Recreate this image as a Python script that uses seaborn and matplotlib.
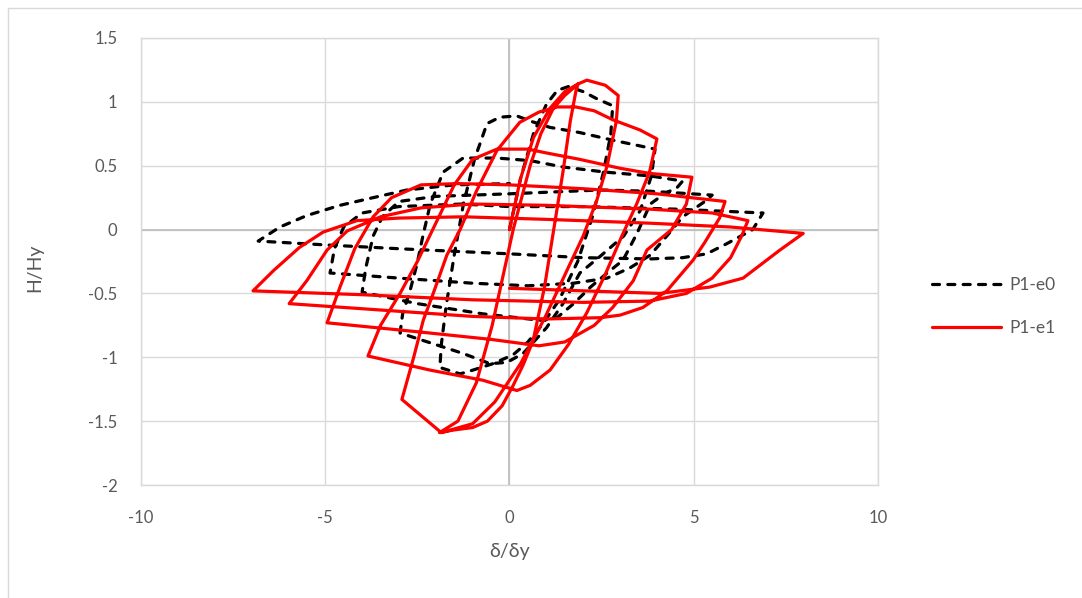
import matplotlib
matplotlib.use("Agg")
import matplotlib.pyplot as plt
import pandas as pd
import seaborn as sns
from matplotlib.lines import Line2D

# ---- data: normalised lateral load H/Hy vs normalised drift δ/δy ----
series_names = ["P1-e0", "P1-e1"]

e0_x = [0, 0.3, 0.65, 1.0, 1.3, 1.6, 2.0, 2.4, 2.8,
        2.75, 2.55, 2.25, 1.85, 1.35, 0.9, 0.5, 0.1, -0.45, -0.99, -1.34, -1.89,
        -1.85, -1.72, -1.5, -1.25, -0.95, -0.61, -0.26, 0.2, 0.56, 1.1, 1.9, 2.8, 3.95,
        3.85, 3.55, 3.1, 2.5, 1.91, 1.45, 1.0, 0.37, -0.07, -0.53, -1.26, -2.97,
        -2.9, -2.7, -2.51, -2.35, -2.15, -1.8, -1.26, -0.34, 0.56, 1.45, 2.6, 3.82, 4.7,
        4.55, 4.2, 3.82, 3.46, 3.08, 2.65, 2.2, 1.74, 1.29, 0.83, -0.72, -2.5, -4.0,
        -3.9, -3.7, -3.45, -3.0, -2.0, 0.0, 2.46, 3.82, 5.5,
        5.3, 4.7, 4.27, 3.82, 3.27, 2.65, 1.74, 0.5, -1.0, -3.0, -4.87,
        -4.75, -4.5, -4.0, -3.0, -1.3, 0.0, 2.0, 4.5, 6.88,
        6.6, 5.9, 5.35, 4.7, 3.8, 2.0, 0.0, -3.0, -5.0, -6.82,
        -6.23, -5.5, -4.6, -3.7, -2.78, -1.5, 0.0]
e0_y = [0, 0.4, 0.75, 0.98, 1.09, 1.12, 1.08, 1.02, 0.97,
        0.75, 0.45, 0.1, -0.25, -0.55, -0.74, -0.88, -0.98, -1.05, -1.1, -1.13, -1.08,
        -0.9, -0.6, -0.2, 0.2, 0.55, 0.83, 0.88, 0.89, 0.85, 0.8, 0.76, 0.7, 0.63,
        0.42, 0.15, -0.05, -0.2, -0.34, -0.58, -0.77, -0.97, -1.04, -1.05, -0.97, -0.81,
        -0.66, -0.48, -0.27, -0.05, 0.2, 0.45, 0.56, 0.56, 0.54, 0.49, 0.45, 0.42, 0.38,
        0.33, 0.28, 0.2, -0.03, -0.24, -0.34, -0.45, -0.58, -0.69, -0.71, -0.66, -0.58, -0.49,
        -0.3, -0.05, 0.1, 0.22, 0.26, 0.28, 0.31, 0.3, 0.27,
        0.22, 0.1, -0.05, -0.2, -0.3, -0.38, -0.42, -0.44, -0.42, -0.38, -0.34,
        -0.15, 0.02, 0.13, 0.18, 0.2, 0.18, 0.18, 0.16, 0.13,
        0.0, -0.11, -0.19, -0.22, -0.23, -0.22, -0.19, -0.15, -0.12, -0.09,
        0.02, 0.11, 0.19, 0.25, 0.31, 0.35, 0.36]

e1_x = [0, 0.3, 0.65, 1.1, 1.5, 1.86,
        1.5, 1.19, 0.85, 0.56, 0.1, -0.47, -0.9, -1.4, -1.9,
        -1.53, -1.0, -0.6, -0.2, 0.1, 0.37, 0.64, 0.95, 1.2, 1.45, 1.65, 1.8, 1.86, 2.1, 2.6, 2.95,
        2.9, 2.65, 2.37, 2.0, 1.64, 0.96, 0.3, -0.4, -1.0, -1.85, -2.92,
        -2.6, -2.34, -2.07, -1.7, -1.34, -0.9, -0.34, 0.28, 0.8, 1.3, 1.8, 2.3, 2.8, 3.54, 4.0,
        3.8, 3.45, 3.05, 2.6, 2.1, 1.6, 1.1, 0.56, 0.2, -0.72, -2.16, -3.84,
        -3.5, -2.97, -2.5, -2.0, -1.5, -1.0, -0.34, 0.5, 1.0, 1.9, 3.0, 3.8, 4.95,
        4.8, 4.4, 3.73, 3.36, 2.8, 2.3, 1.5, 0.8, -0.5, -2.5, -4.95,
        -4.6, -4.2, -3.7, -3.2, -2.4, -1.4, 0.0, 2.0, 4.0, 5.85,
        5.7, 5.3, 4.98, 4.27, 3.62, 3.0, 2.46, 1.0, -1.0, -3.0, -5.98,
        -5.5, -4.95, -4.4, -3.5, -2.4, -1.0, 1.0, 3.8, 5.5, 6.47,
        6.3, 6.0, 5.5, 4.8, 3.8, 2.0, -1.0, -4.0, -6.96,
        -6.4, -5.7, -5.06, -4.14, -3.0, -1.25, 1.0, 3.8, 6.0, 7.97,
        7.34, 6.34, 5.44, 4.08, 2.0, 0.0]
e1_y = [0, 0.4, 0.72, 0.95, 1.08, 1.14,
        1.05, 0.95, 0.75, 0.5, 0.0, -0.75, -1.2, -1.5, -1.59,
        -1.57, -1.55, -1.5, -1.38, -1.22, -1.06, -0.87, -0.45, 0.0, 0.45, 0.85, 1.08, 1.14, 1.17, 1.13, 1.05,
        0.85, 0.5, 0.23, -0.05, -0.27, -0.69, -1.05, -1.35, -1.52, -1.59, -1.33,
        -1.0, -0.71, -0.5, -0.2, 0.0, 0.3, 0.62, 0.84, 0.92, 0.96, 0.96, 0.93, 0.86, 0.78, 0.71,
        0.45, 0.2, -0.05, -0.35, -0.65, -0.9, -1.1, -1.22, -1.26, -1.18, -1.1, -0.99,
        -0.75, -0.5, -0.25, 0.05, 0.35, 0.55, 0.63, 0.63, 0.6, 0.55, 0.48, 0.44, 0.41,
        0.2, 0.0, -0.16, -0.4, -0.61, -0.75, -0.88, -0.91, -0.86, -0.8, -0.73,
        -0.45, -0.15, 0.1, 0.25, 0.35, 0.36, 0.35, 0.32, 0.28, 0.22,
        0.09, -0.1, -0.24, -0.48, -0.61, -0.67, -0.69, -0.7, -0.68, -0.64, -0.58,
        -0.4, -0.16, -0.01, 0.1, 0.17, 0.2, 0.19, 0.16, 0.13, 0.07,
        -0.05, -0.22, -0.38, -0.5, -0.56, -0.57, -0.55, -0.51, -0.48,
        -0.32, -0.14, -0.02, 0.07, 0.09, 0.1, 0.08, 0.05, 0.02, -0.03,
        -0.16, -0.38, -0.45, -0.5, -0.48, -0.46]

x_ticks = [-10, -5, 0, 5, 10]
y_ticks = [-2, -1.5, -1, -0.5, 0, 0.5, 1, 1.5]
x_label = "δ/δy"
y_label = "H/Hy"

# ---- styling ----
sns.set_theme(style="white")
plt.rcParams["font.family"] = ["Lato", "DejaVu Sans"]
plt.rcParams["axes.unicode_minus"] = False

text_grey = "#595959"
grid_grey = "#d9d9d9"

W, H = 1082, 598
fig = plt.figure(figsize=(W / 100, H / 100), dpi=100)
ax = fig.add_axes([141 / W, 1 - 485 / H, 737 / W, 447 / H])

df0 = pd.DataFrame({"x": e0_x, "y": e0_y})
df1 = pd.DataFrame({"x": e1_x, "y": e1_y})

sns.lineplot(data=df0, x="x", y="y", sort=False, estimator=None, ax=ax,
             color="black", linewidth=2.3, linestyle=(0, (2.2, 2.6)),
             dash_capstyle="round", zorder=3)
sns.lineplot(data=df1, x="x", y="y", sort=False, estimator=None, ax=ax,
             color="#ff0000", linewidth=2.3, solid_joinstyle="round", zorder=4)

ax.set_xlim(-10, 10)
ax.set_ylim(-2, 1.5)
ax.set_xticks(x_ticks)
ax.set_yticks(y_ticks)
ax.set_xticklabels([f"{v:g}" for v in x_ticks])
ax.set_yticklabels([f"{v:g}" for v in y_ticks])

ax.grid(True, color=grid_grey, linewidth=1.0, zorder=0)
ax.set_axisbelow(True)
for s in ax.spines.values():
    s.set_color(grid_grey)
    s.set_linewidth(1.0)
ax.axhline(0, color="#bfbfbf", linewidth=1.3, zorder=1)
ax.axvline(0, color="#bfbfbf", linewidth=1.3, zorder=1)

ax.tick_params(axis="both", length=0, labelsize=12, labelcolor=text_grey)
ax.tick_params(axis="x", pad=18)
ax.tick_params(axis="y", pad=17)

ax.set_xlabel(x_label, fontsize=14, color=text_grey)
ax.set_ylabel(y_label, fontsize=14, color=text_grey)
ax.xaxis.set_label_coords(0.5, (485 - 551) / 447)
ax.xaxis.label.set_va("center")
ax.yaxis.set_label_coords((35 - 141) / 737, (485 - 268) / 447)
ax.yaxis.label.set_va("center")

handles = [Line2D([], [], color="black", linewidth=2.3, linestyle=(0, (2.2, 2.6)),
                  dash_capstyle="round"),
           Line2D([], [], color="#ff0000", linewidth=2.3)]
ax.legend(handles, series_names, loc="center left",
          bbox_to_anchor=(932 / W, 1 - 306.5 / H), bbox_transform=fig.transFigure,
          frameon=False, fontsize=12.5, labelcolor=text_grey, handlelength=4.0,
          handletextpad=0.45, labelspacing=1.55, borderpad=0, borderaxespad=0)

# outer chart frame (left and top edges)
fig.add_artist(Line2D([7.5 / W, 7.5 / W], [0, 1 - 7.5 / H], transform=fig.transFigure,
                      color=grid_grey, linewidth=1.0))
fig.add_artist(Line2D([7.5 / W, 1], [1 - 7.5 / H, 1 - 7.5 / H], transform=fig.transFigure,
                      color=grid_grey, linewidth=1.0))

fig.savefig("out.png", dpi=100)
